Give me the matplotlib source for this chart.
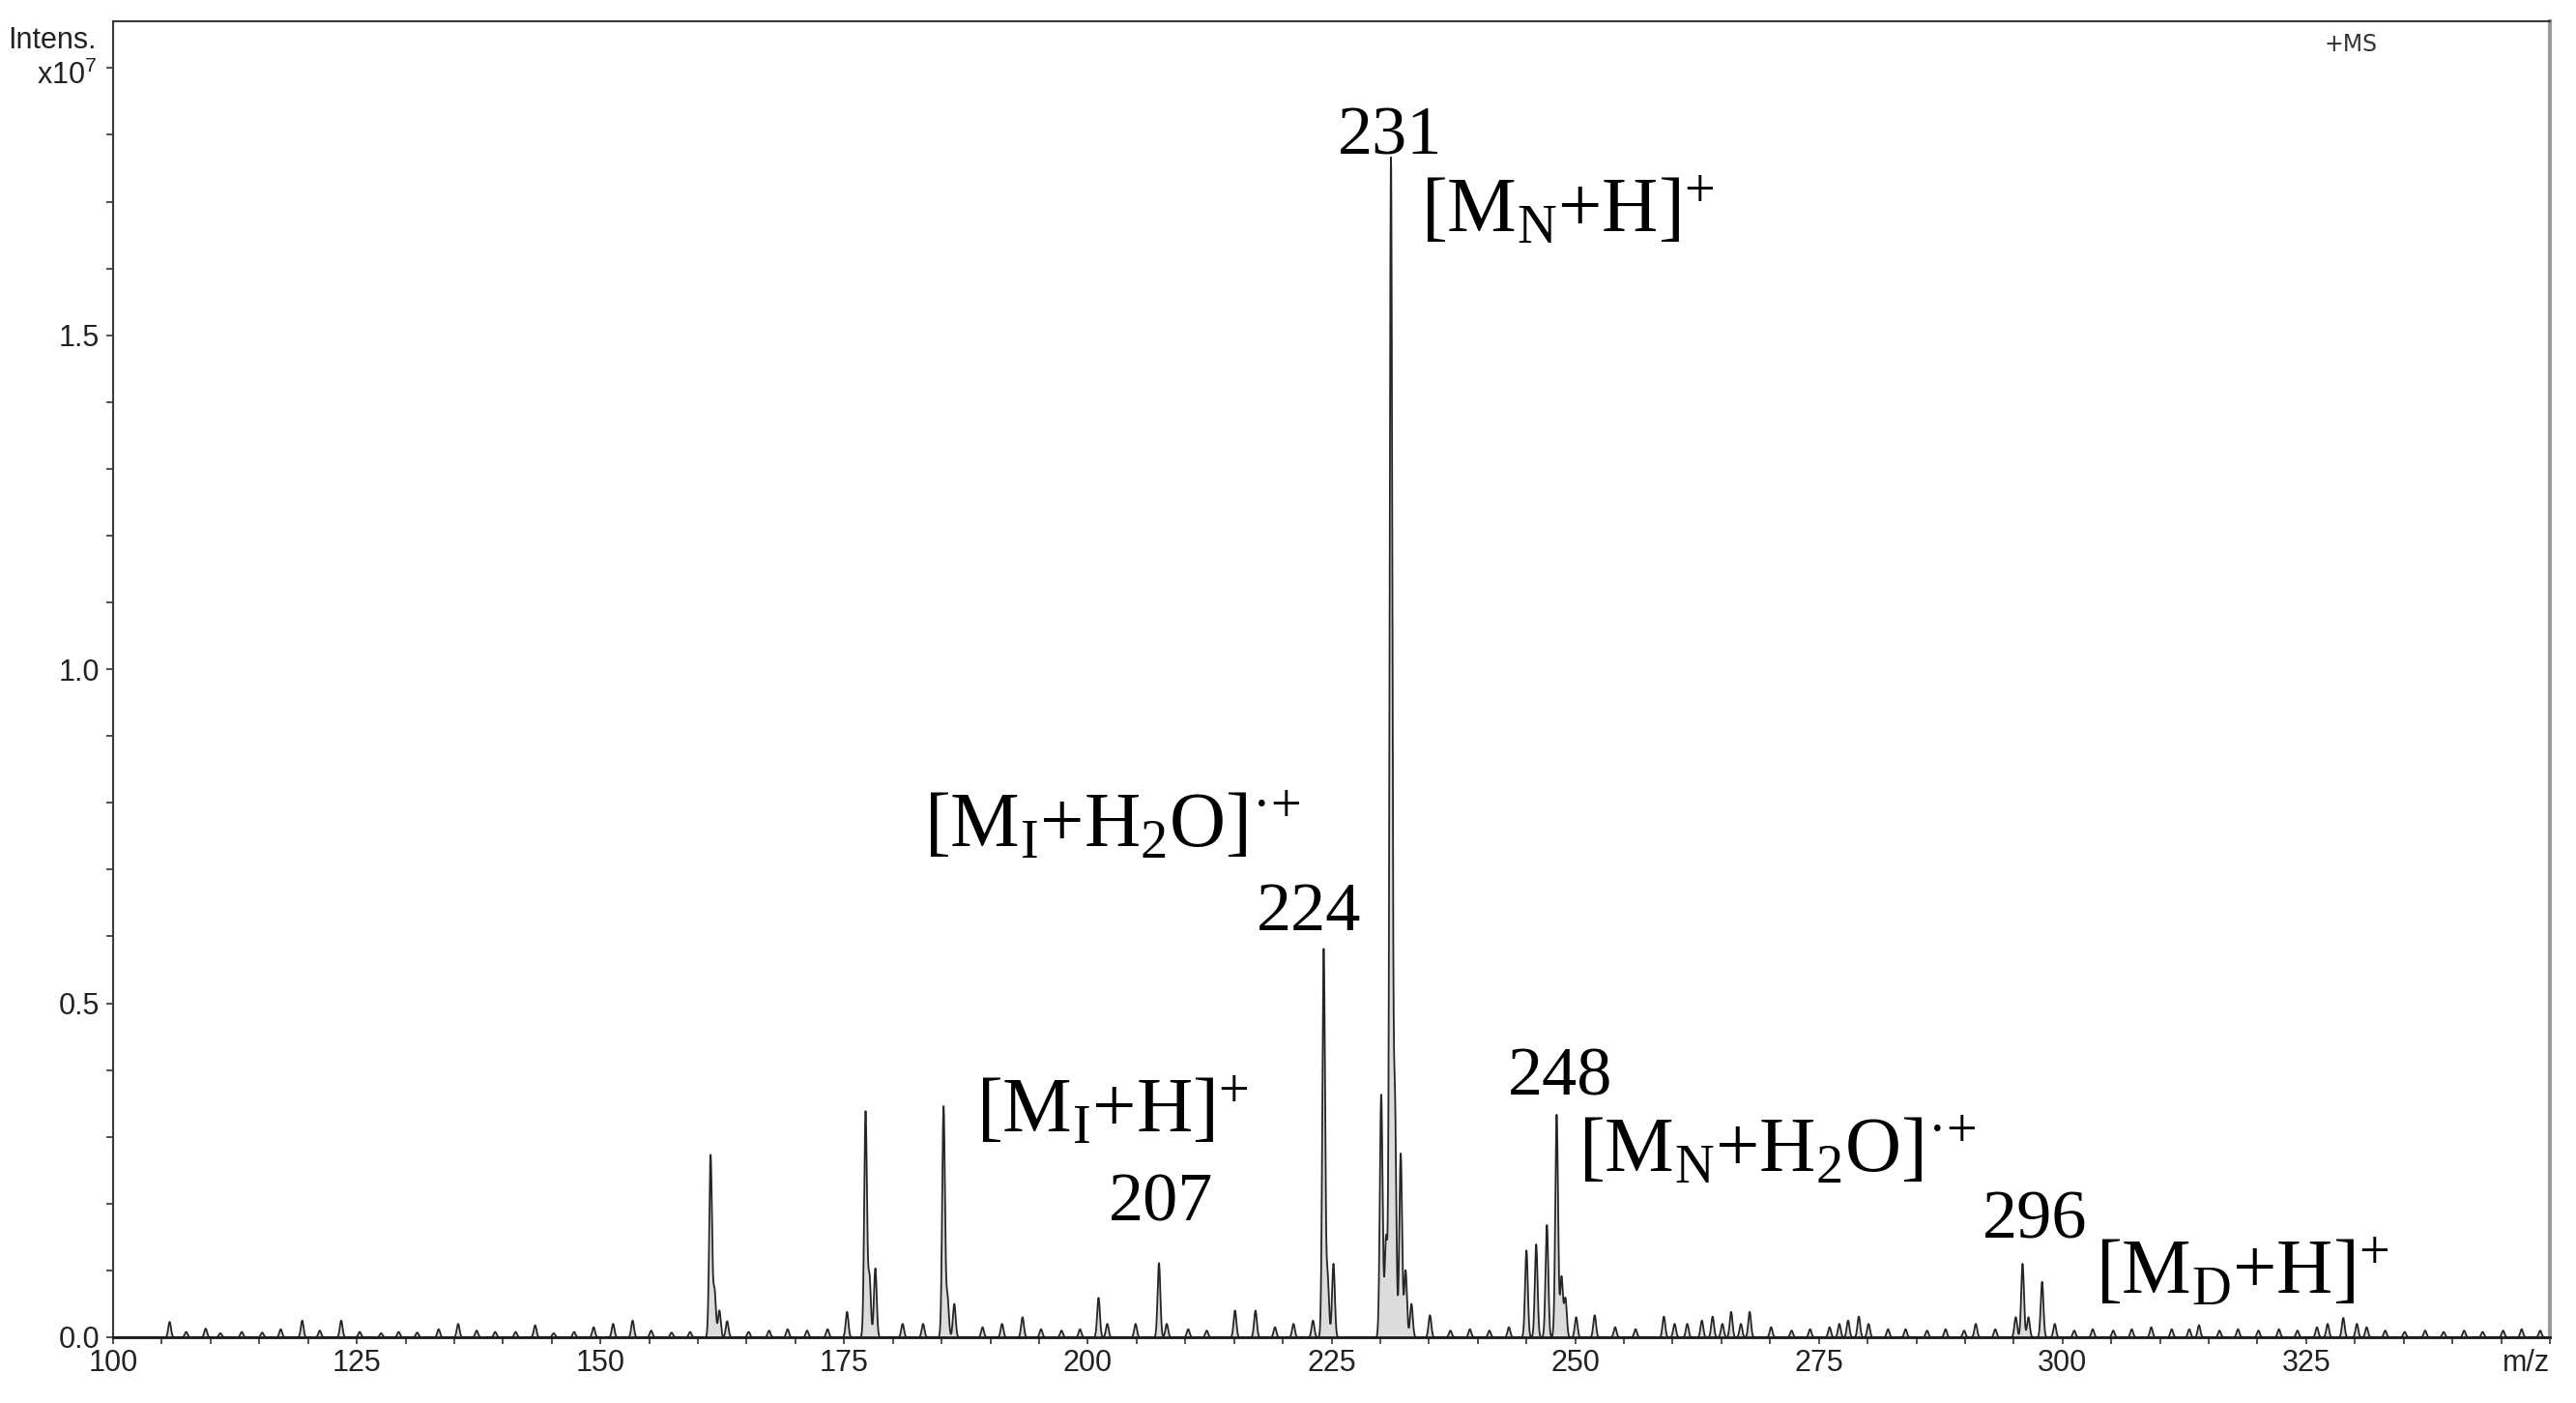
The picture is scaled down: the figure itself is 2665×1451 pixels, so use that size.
import numpy as np
import matplotlib
matplotlib.use("Agg")
import matplotlib.pyplot as plt
from matplotlib.ticker import FixedLocator, MultipleLocator, FormatStrFormatter

TICK_SIZE = 22
LABEL_SIZE = 52
ION_SIZE = 58

plt.rc('font', family='Liberation Sans', size=TICK_SIZE)
plt.rc('axes', linewidth=1.5)

# strong ions, intensity in units of 1e7
peak_mz = [161.3, 161.7, 162.2, 163.0, 175.3, 177.2, 177.6, 178.2,
           185.2, 185.6, 186.3, 201.1, 202.0, 207.3, 224.2, 224.6,
           225.2, 230.1, 230.6, 231.1, 231.5, 232.1, 232.6, 233.2,
           245.0, 246.0, 247.1, 248.1, 248.6, 249.0, 250.1,
           295.9, 296.5, 297.9, 299.2]
peak_int = [0.272, 0.07, 0.04, 0.024, 0.038, 0.337, 0.09, 0.103,
            0.345, 0.06, 0.05, 0.059, 0.02, 0.111, 0.58, 0.09,
            0.11, 0.363, 0.15, 1.76, 0.35, 0.275, 0.10, 0.05,
            0.13, 0.139, 0.168, 0.333, 0.09, 0.058, 0.03,
            0.11, 0.03, 0.083, 0.02]

# low level ions along the baseline
noise_mz = [105.8, 107.5, 109.5, 111.0, 113.2, 115.3, 117.2, 119.4, 121.2,
            123.4, 125.3, 127.5, 129.3, 131.2, 133.4, 135.4, 137.3, 139.2,
            141.3, 143.3, 145.2, 147.3, 149.3, 151.3, 153.3, 155.2, 157.3,
            159.2, 165.2, 167.3, 169.2, 171.2, 173.3, 181.0, 183.1, 189.2,
            191.2, 193.3, 195.2, 197.3, 199.2, 204.9, 208.1, 210.3, 212.2,
            215.1, 217.2, 219.2, 221.1, 223.1, 235.1, 237.2, 239.2, 241.2,
            243.2, 252.0, 254.1, 256.2, 259.1, 260.2, 261.5, 263.0, 264.1,
            265.1, 266.0, 267.0, 267.9, 270.1, 272.2, 274.1, 276.1, 277.1,
            278.0, 279.1, 280.1, 282.1, 283.9, 286.1, 288.0, 289.9, 291.1,
            293.1, 295.2, 301.2, 303.1, 305.2, 307.1, 309.1, 311.2, 313.0,
            314.0, 316.1, 318.0, 320.1, 322.2, 324.1, 326.1, 327.2, 328.8,
            330.2, 331.2, 333.1, 335.1, 337.2, 339.1, 341.2, 343.1, 345.2,
            347.1, 349.0]
noise_int = [0.023, 0.008, 0.013, 0.006, 0.008, 0.007, 0.012, 0.025, 0.010,
             0.025, 0.008, 0.006, 0.008, 0.007, 0.012, 0.020, 0.010, 0.008,
             0.008, 0.018, 0.006, 0.008, 0.015, 0.020, 0.025, 0.010, 0.007,
             0.008, 0.008, 0.010, 0.012, 0.010, 0.012, 0.020, 0.020, 0.015,
             0.020, 0.030, 0.012, 0.010, 0.012, 0.020, 0.020, 0.012, 0.010,
             0.040, 0.040, 0.015, 0.020, 0.025, 0.033, 0.010, 0.012, 0.010,
             0.015, 0.033, 0.015, 0.012, 0.031, 0.020, 0.020, 0.025, 0.031,
             0.020, 0.038, 0.020, 0.038, 0.015, 0.010, 0.012, 0.015, 0.020,
             0.025, 0.031, 0.020, 0.012, 0.012, 0.010, 0.012, 0.010, 0.020,
             0.012, 0.030, 0.010, 0.012, 0.010, 0.012, 0.015, 0.012, 0.012,
             0.018, 0.010, 0.012, 0.010, 0.012, 0.010, 0.015, 0.020, 0.029,
             0.020, 0.015, 0.010, 0.008, 0.010, 0.008, 0.010, 0.008, 0.010,
             0.012, 0.010]

x_ticks = [100, 125, 150, 175, 200, 225, 250, 275, 300, 325]
y_ticks = [0.0, 0.5, 1.0, 1.5]

mass_labels = ['231', '224', '207', '248', '296']
ion_labels = [r'$\mathregular{[M_N{+}H]^{+}}$',
              r'$\mathregular{[M_I{+}H_2O]^{·{+}}}$',
              r'$\mathregular{[M_I{+}H]^{+}}$',
              r'$\mathregular{[M_N{+}H_2O]^{·{+}}}$',
              r'$\mathregular{[M_D{+}H]^{+}}$']


def spectrum(mz):
    sigma = 0.14
    out = np.zeros_like(mz)
    for m, h in zip(peak_mz + noise_mz, peak_int + noise_int):
        out += h * np.exp(-0.5 * ((mz - m) / sigma) ** 2)
    return out


def plot_spectrum():
    fig = plt.figure(figsize=(26.65, 14.51), dpi=100)
    ax = fig.add_axes([117 / 2665, 68 / 1451, 2521 / 2665, 1361 / 1451])

    mz = np.arange(100, 350.001, 0.02)
    inten = spectrum(mz)
    ax.fill_between(mz, 0, inten, color='#dcdcdc', lw=0)
    ax.plot(mz, inten, color='#262626', lw=1.3)

    ax.set_xlim(100, 350)
    ax.set_ylim(0, 1.97)
    ax.xaxis.set_major_locator(FixedLocator(x_ticks))
    ax.xaxis.set_minor_locator(MultipleLocator(5))
    ax.yaxis.set_major_locator(FixedLocator(y_ticks))
    ax.yaxis.set_minor_locator(MultipleLocator(0.1))
    ax.yaxis.set_major_formatter(FormatStrFormatter('%.1f'))
    ax.tick_params(which='both', direction='out', length=5, width=1.2,
                   color='#333333', labelcolor='#222222')
    ax.tick_params(axis='x', pad=4)
    ax.tick_params(axis='y', pad=5)

    for side in ['left', 'top']:
        ax.spines[side].set_color('#3a3a3a')
    ax.spines['bottom'].set_color('#1a1a1a')
    ax.spines['bottom'].set_linewidth(2)
    ax.spines['right'].set_color('#9a9a9a')
    ax.spines['right'].set_linewidth(3)

    ax.annotate('m/z', xy=(1, 0), xycoords='axes fraction', xytext=(0, -9),
                textcoords='offset points', ha='right', va='top',
                fontsize=TICK_SIZE, color='#222222')
    fig.text(100 / 2665, 1 - 50 / 1451, 'Intens.', ha='right',
             va='baseline', fontsize=TICK_SIZE, color='#222222')
    fig.text(100 / 2665, 1 - 87 / 1451, r'x10$\mathregular{^7}$', ha='right',
             va='baseline', fontsize=TICK_SIZE, color='#222222')
    fig.text(2432 / 2665, 1 - 53 / 1451, '+MS', ha='center', va='baseline',
             fontsize=17, family='DejaVu Sans', color='#333333')

    serif = dict(family='Liberation Serif', color='black', va='baseline')
    mass_pos = [(231.05, 1.771), (222.65, 0.610), (207.5, 0.175),
                (248.5, 0.362), (297.2, 0.149)]
    ion_pos = [(234.2, 1.655), (183.2, 0.733), (188.6, 0.306),
               (250.3, 0.248), (303.4, 0.065)]
    for txt, (x, y) in zip(mass_labels, mass_pos):
        ax.text(x, y, txt, ha='center', fontsize=LABEL_SIZE, **serif)
    for txt, (x, y) in zip(ion_labels, ion_pos):
        ax.text(x, y, txt, ha='left', fontsize=ION_SIZE, **serif)

    fig.savefig('out.png', dpi=100)


if __name__ == "__main__":
    plot_spectrum()
